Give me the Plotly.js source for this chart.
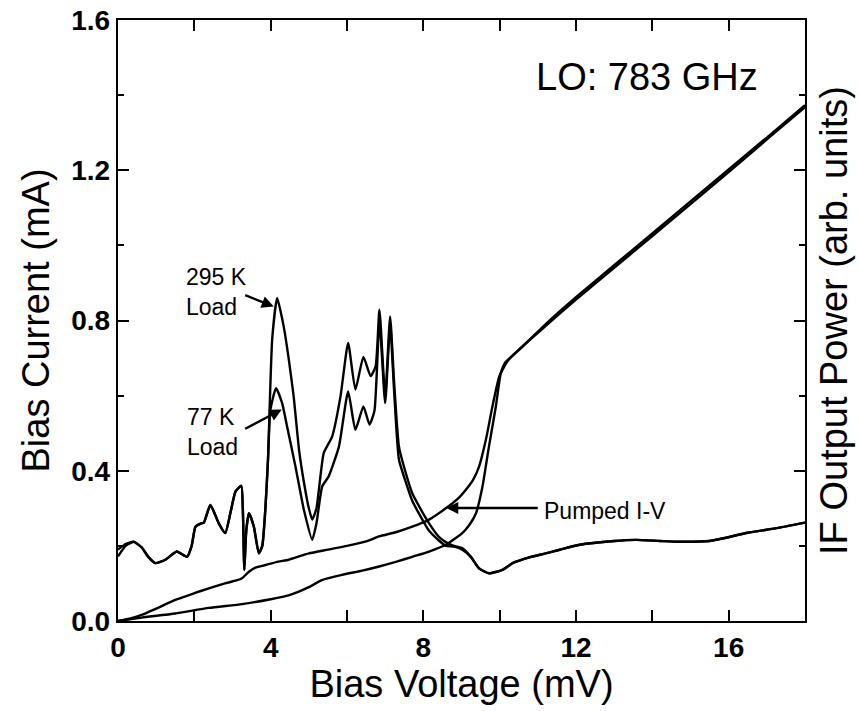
<!DOCTYPE html>
<html>
<head>
<meta charset="utf-8">
<script src="https://cdn.plot.ly/plotly-3.0.1.min.js"></script>
<style>html,body{margin:0;padding:0;background:#fff;}#chart{width:859px;height:711px;}</style>
</head>
<body>
<div id="chart"></div>
<script>
// IF output power, 295 K load
const if295X = [0, 0.2, 0.41, 0.62, 0.8, 0.98, 1.24, 1.54, 1.81, 1.93, 2.03, 2.18, 2.25, 2.42, 2.64, 2.81, 2.95, 3.08, 3.23, 3.27, 3.31, 3.36, 3.43, 3.56, 3.69, 3.78, 3.86, 3.93, 4.04, 4.17, 4.34, 4.47, 4.6, 4.75, 4.87, 5.0, 5.09, 5.2, 5.39, 5.61, 5.83, 6.03, 6.22, 6.43, 6.62, 6.75, 6.85, 7.0, 7.13, 7.23, 7.36, 7.54, 7.71, 7.89, 8.15, 8.4, 8.59, 8.8, 9.02, 9.25, 9.46, 9.72, 10.07, 10.34, 10.8, 11.2, 12.1, 13.0, 13.57, 14.2, 14.7, 15.5, 16.5, 17.3, 18];
const if295Y = [0.19, 0.205, 0.211, 0.196, 0.17, 0.154, 0.163, 0.185, 0.171, 0.2, 0.251, 0.26, 0.262, 0.309, 0.26, 0.234, 0.29, 0.345, 0.36, 0.3, 0.136, 0.24, 0.287, 0.251, 0.18, 0.2, 0.296, 0.43, 0.75, 0.86, 0.785, 0.7, 0.6, 0.45, 0.37, 0.3, 0.27, 0.3, 0.447, 0.491, 0.598, 0.74, 0.616, 0.703, 0.652, 0.678, 0.829, 0.598, 0.811, 0.643, 0.465, 0.394, 0.34, 0.305, 0.26, 0.225, 0.21, 0.2, 0.194, 0.17, 0.14, 0.127, 0.136, 0.154, 0.17, 0.18, 0.203, 0.213, 0.216, 0.213, 0.211, 0.213, 0.235, 0.248, 0.262];
// IF output power, 77 K load
const if77X = [0, 0.2, 0.41, 0.62, 0.8, 0.98, 1.24, 1.54, 1.81, 1.93, 2.03, 2.18, 2.25, 2.42, 2.64, 2.81, 2.95, 3.08, 3.23, 3.27, 3.31, 3.36, 3.43, 3.56, 3.69, 3.78, 3.86, 3.93, 3.99, 4.14, 4.3, 4.43, 4.65, 4.87, 5.09, 5.2, 5.35, 5.52, 5.79, 6.03, 6.22, 6.43, 6.59, 6.72, 6.85, 7.0, 7.13, 7.23, 7.36, 7.54, 7.71, 7.89, 8.15, 8.4, 8.59, 8.8, 9.02, 9.25, 9.46, 9.72, 10.07, 10.34, 10.8, 11.2, 12.1, 13.0, 13.57, 14.2, 14.7, 15.5, 16.5, 17.3, 18];
const if77Y = [0.172, 0.2, 0.211, 0.196, 0.17, 0.154, 0.163, 0.185, 0.171, 0.2, 0.251, 0.26, 0.262, 0.309, 0.26, 0.234, 0.29, 0.345, 0.36, 0.3, 0.136, 0.24, 0.287, 0.251, 0.18, 0.2, 0.296, 0.43, 0.56, 0.62, 0.58, 0.518, 0.411, 0.296, 0.216, 0.26, 0.358, 0.385, 0.465, 0.611, 0.509, 0.571, 0.523, 0.56, 0.8, 0.58, 0.79, 0.62, 0.43, 0.37, 0.32, 0.285, 0.24, 0.215, 0.2, 0.198, 0.19, 0.17, 0.14, 0.127, 0.136, 0.154, 0.17, 0.18, 0.203, 0.213, 0.216, 0.213, 0.211, 0.213, 0.235, 0.248, 0.262];
// Pumped I-V
const pumpedX = [0, 0.3, 0.62, 1.0, 1.5, 2.0, 2.38, 2.8, 3.1, 3.25, 3.43, 3.6, 3.86, 4.2, 4.47, 5.0, 5.5, 6.0, 6.5, 6.84, 7.3, 7.71, 8.15, 8.59, 8.9, 9.11, 9.3, 9.46, 9.64, 9.81, 9.99, 10.2, 10.51, 11.2, 12.0, 13, 14, 15, 16, 17, 18];
const pumpedY = [0, 0.006, 0.016, 0.033, 0.056, 0.074, 0.087, 0.1, 0.108, 0.114, 0.131, 0.142, 0.149, 0.158, 0.163, 0.18, 0.19, 0.2, 0.212, 0.225, 0.237, 0.251, 0.27, 0.30, 0.325, 0.349, 0.375, 0.411, 0.483, 0.571, 0.651, 0.691, 0.723, 0.785, 0.856, 0.94, 1.025, 1.11, 1.195, 1.282, 1.368];
// Unpumped I-V
const unpumpedX = [0, 0.62, 1.5, 2.38, 3.25, 4.0, 4.47, 5.0, 5.34, 5.87, 6.4, 6.84, 7.3, 7.71, 8.15, 8.59, 9.02, 9.2, 9.38, 9.55, 9.72, 9.9, 10.03, 10.16, 10.51, 11.2, 12, 13, 14, 15, 16, 17, 18];
const unpumpedY = [0, 0.009, 0.02, 0.035, 0.045, 0.058, 0.068, 0.09, 0.109, 0.123, 0.134, 0.145, 0.158, 0.171, 0.185, 0.203, 0.234, 0.255, 0.287, 0.358, 0.465, 0.571, 0.66, 0.69, 0.722, 0.79, 0.862, 0.947, 1.032, 1.117, 1.202, 1.287, 1.373];

const xTickVals = [0, 4, 8, 12, 16];
const yTickVals = [0, 0.4, 0.8, 1.2, 1.6];
const yTickText = ['0.0', '0.4', '0.8', '1.2', '1.6'];

const FONT = '"Liberation Sans", Arial, Helvetica, sans-serif';
const lineStyle = {color: '#000', width: 2.4, shape: 'spline', smoothing: 0.5};

const traces = [
  {x: unpumpedX, y: unpumpedY, mode: 'lines', line: lineStyle, name: 'Unpumped I-V', xaxis: 'x', yaxis: 'y'},
  {x: pumpedX, y: pumpedY, mode: 'lines', line: lineStyle, name: 'Pumped I-V', xaxis: 'x', yaxis: 'y'},
  {x: if295X, y: if295Y, mode: 'lines', line: lineStyle, name: '295 K Load', xaxis: 'x', yaxis: 'y2'},
  {x: if77X, y: if77Y, mode: 'lines', line: lineStyle, name: '77 K Load', xaxis: 'x', yaxis: 'y2'}
];

const axisCommon = {
  showgrid: false, zeroline: false, showline: true, linecolor: '#000', linewidth: 2.2,
  ticks: 'inside', ticklen: 11, tickwidth: 2, tickcolor: '#000',
  tickfont: {family: FONT, size: 28, color: '#000', weight: 'bold'}
};
const minorTicks = (d) => ({dtick: d, tick0: 0, ticks: 'inside', ticklen: 6, tickwidth: 2, tickcolor: '#000'});
const titleFont = {family: FONT, size: 38, color: '#000'};

const layout = {
  width: 859, height: 711,
  margin: {l: 118, r: 54, t: 20, b: 90},
  paper_bgcolor: '#fff', plot_bgcolor: '#fff',
  showlegend: false,
  font: {family: FONT, color: '#000'},
  xaxis: Object.assign({}, axisCommon, {
    range: [0, 18], tickvals: xTickVals, mirror: 'allticks', minor: minorTicks(2),
    title: {text: 'Bias Voltage (mV)', font: titleFont, standoff: 0}
  }),
  yaxis: Object.assign({}, axisCommon, {
    range: [0, 1.6], tickvals: yTickVals, ticktext: yTickText, minor: minorTicks(0.2),
    title: {text: 'Bias Current (mA)', font: titleFont, standoff: 10}
  }),
  yaxis2: Object.assign({}, axisCommon, {
    overlaying: 'y', side: 'right', range: [0, 1.6], tickvals: yTickVals, showticklabels: false, minor: minorTicks(0.2),
    title: {text: 'IF Output Power (arb. units)', font: titleFont, standoff: 14}
  }),
  annotations: [
    {xref: 'paper', yref: 'paper', x: 0.77, y: 0.905, text: 'LO: 783 GHz', showarrow: false,
     font: {family: FONT, size: 38, color: '#000'}, xanchor: 'center', yanchor: 'middle'},
    {xref: 'x', yref: 'y', x: 1.72, y: 0.877, text: '295 K<br>Load', showarrow: false, align: 'left',
     font: {family: FONT, size: 23, color: '#000'}, xanchor: 'left', yanchor: 'middle'},
    {xref: 'x', yref: 'y', x: 1.75, y: 0.504, text: '77 K<br>Load', showarrow: false, align: 'left',
     font: {family: FONT, size: 23, color: '#000'}, xanchor: 'left', yanchor: 'middle'},
    {xref: 'x', yref: 'y', x: 11.1, y: 0.293, text: 'Pumped I-V', showarrow: false,
     font: {family: FONT, size: 23, color: '#000'}, xanchor: 'left', yanchor: 'middle'},
    {xref: 'x', yref: 'y', x: 4.08, y: 0.837, text: '', showarrow: true, ax: -30, ay: -12,
     arrowhead: 2, arrowsize: 1, arrowwidth: 2.4, arrowcolor: '#000'},
    {xref: 'x', yref: 'y', x: 4.29, y: 0.563, text: '', showarrow: true, ax: -38, ay: 20,
     arrowhead: 2, arrowsize: 1, arrowwidth: 2.4, arrowcolor: '#000'},
    {xref: 'x', yref: 'y', x: 8.6, y: 0.301, text: '', showarrow: true, ax: 93, ay: 0,
     arrowhead: 2, arrowsize: 1, arrowwidth: 2.4, arrowcolor: '#000'}
  ]
};

Plotly.newPlot('chart', traces, layout, {displayModeBar: false, staticPlot: true});
</script>
</body>
</html>
